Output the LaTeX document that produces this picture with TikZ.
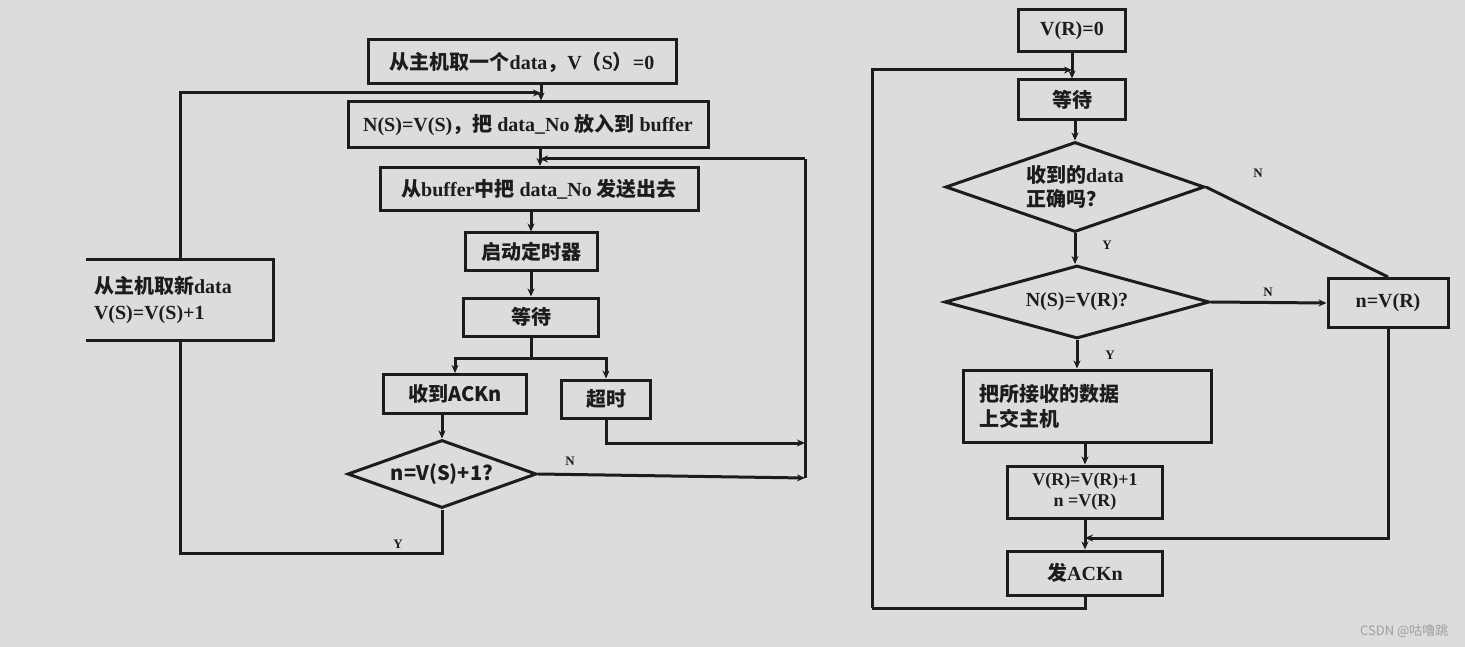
\documentclass[tikz,border=0pt]{standalone}
\usepackage{fontspec}
\setmainfont{Liberation Serif}
\newfontfamily\cjk{Noto Sans CJK SC}
\usetikzlibrary{shapes.geometric,arrows.meta,calc}
\definecolor{bg}{RGB}{220,220,222}
\definecolor{ink}{RGB}{28,28,28}
\begin{document}
\begin{tikzpicture}[x=1pt,y=-1pt,
  conn/.style={draw=ink,line width=3pt},
  arr/.style={conn,-{Stealth[length=8pt,width=7pt]}},
  box/.style={draw=ink,line width=3pt,rectangle,inner sep=2pt,font=\fontsize{20}{24}\selectfont\bfseries,text=ink},
  dia/.style={draw=ink,line width=3pt,diamond,inner sep=0pt,font=\fontsize{20}{24}\selectfont\bfseries,text=ink},
  lbl/.style={font=\fontsize{13}{15}\selectfont\bfseries,text=ink,inner sep=0pt}]
\fill[bg] (0,0) rectangle (1465,647);
\useasboundingbox (0,0) rectangle (1465,647);

% ---------- left flowchart ----------
\node[box,minimum width=308,minimum height=44] (a1) at (522,62) {{\cjk 从主机取一个}data{\cjk ，}V{\cjk （}S{\cjk ）}=0};
\node[box,minimum width=360,minimum height=46] (a2) at (528,125) {N(S)=V(S){\cjk ，把} data\_No {\cjk 放入到} buffer};
\node[box,minimum width=318,minimum height=43] (a3) at (539,189) {{\cjk 从}buffer{\cjk 中把} data\_No {\cjk 发送出去}};
\node[box,minimum width=132,minimum height=38] (a4) at (531,252) {\cjk 启动定时器};
\node[box,minimum width=135,minimum height=38] (a5) at (531,317) {\cjk 等待};
\node[box,minimum width=143,minimum height=39] (a6) at (455,394) {\cjk 收到ACKn};
\node[box,minimum width=89,minimum height=38] (a7) at (606,399) {\cjk 超时};
\node[dia,minimum width=189,minimum height=68,aspect=2.8] (d1) at (442,474) {\cjk n=V(S)+1?};
\node[font=\fontsize{20}{26}\selectfont\bfseries,text=ink,align=left,text width=172,minimum width=187,minimum height=80,inner sep=0pt] (L) at (180,300)
  {{\cjk 从主机取新}data\\V(S)=V(S)+1};
\draw[conn] (L.north west) -- (L.north east) -- (L.south east) -- (L.south west);

\coordinate (c1) at (541,93);
\coordinate (c2) at (540,159);
\coordinate (s) at (531,358);
\coordinate (ybot) at (442,553);
\coordinate (r1) at (805,443);
\coordinate (r2) at (805,478);
\coordinate (r3) at (805,159);

\draw[conn] (a1.south -| c1) -- (c1);
\draw[arr] (c1) -- (a2.north -| c1);
\draw[conn] (a2.south -| c2) -- (c2);
\draw[arr] (c2) -- (a3.north -| c2);
\draw[arr] (a3.south -| a4.north) -- (a4.north);
\draw[arr] (a4) -- (a5);
\draw[conn] (a5.south) -- (s);
\draw[arr] (s) -| (a6.north);
\draw[arr] (s) -| (a7.north);
\draw[arr] (a6.south -| d1.north) -- (d1.north);
\draw[arr] (a7.south) |- (r1);
\draw[arr] (d1.east) -- (r2) node[lbl,pos=0.12,above=7pt] {N};
\draw[conn] (r2) -- (r3);
\draw[arr] (r3) -- (c2);
\draw[conn] (d1.south) -- (ybot) -| (L.south);
\draw[arr] (L.north) |- (c1);
\node[lbl] (ly) at (398,544) {Y};

% ---------- right flowchart ----------
\node[box,minimum width=107,minimum height=42] (b1) at (1072,31) {V(R)=0};
\node[box,minimum width=107,minimum height=40] (b2) at (1072,100) {\cjk 等待};
\node[dia,minimum width=259,minimum height=90,aspect=2.9,align=left] (e1) at (1075,187) {{\cjk 收到的}data\\{\cjk 正确吗？}};
\node[dia,minimum width=265,minimum height=73,aspect=3.6] (e2) at (1077,302) {N(S)=V(R)?};
\node[box,minimum width=120,minimum height=49] (b3) at (1388,303) {n=V(R)};
\node[box,minimum width=248,minimum height=72,align=left,text width=215,font=\fontsize{20}{25}\selectfont\bfseries] (b4) at (1087,406) {\cjk 把所接收的数据\\上交主机};
\node[box,minimum width=155,minimum height=52,align=center,inner sep=1pt,font=\fontsize{18}{21}\selectfont\bfseries] (b5) at (1085,492) {V(R)=V(R)+1\\n =V(R)};
\node[box,minimum width=155,minimum height=44] (b6) at (1085,573) {{\cjk 发}ACKn};

\coordinate (c3) at (1072,70);
\coordinate (c5) at (1085,538);
\coordinate (lb) at (872,608);

\draw[conn] (b1) -- (c3);
\draw[arr] (c3) -- (b2);
\draw[arr] (b2.south -| e1.north) -- (e1.north);
\draw[arr] (e1.south) -- (e1.south |- e2.north);
\node[lbl] (y1) at (1107,245) {Y};
\draw[conn] (e1.east) -- (b3.north);
\node[lbl] (n1) at (1258,173) {N};
\draw[arr] (e2.east) -- (b3.west);
\node[lbl] (n2) at (1268,292) {N};
\draw[arr] (e2.south) -- (e2.south |- b4.north);
\node[lbl] (y2) at (1110,355) {Y};
\draw[arr] (b4.south -| b5.north) -- (b5.north);
\draw[conn] (b5.south) -- (c5);
\draw[arr] (c5) -- (b6.north);
\draw[arr] (b3.south) |- (c5);
\draw[conn] (b6.south) |- (lb);
\draw[arr] (lb) |- (c3);

\node[font=\fontsize{13}{15}\selectfont\cjk,text=gray!75,anchor=east] (wm) at (1452,631) {CSDN @咕噜跳};
\end{tikzpicture}
\end{document}
